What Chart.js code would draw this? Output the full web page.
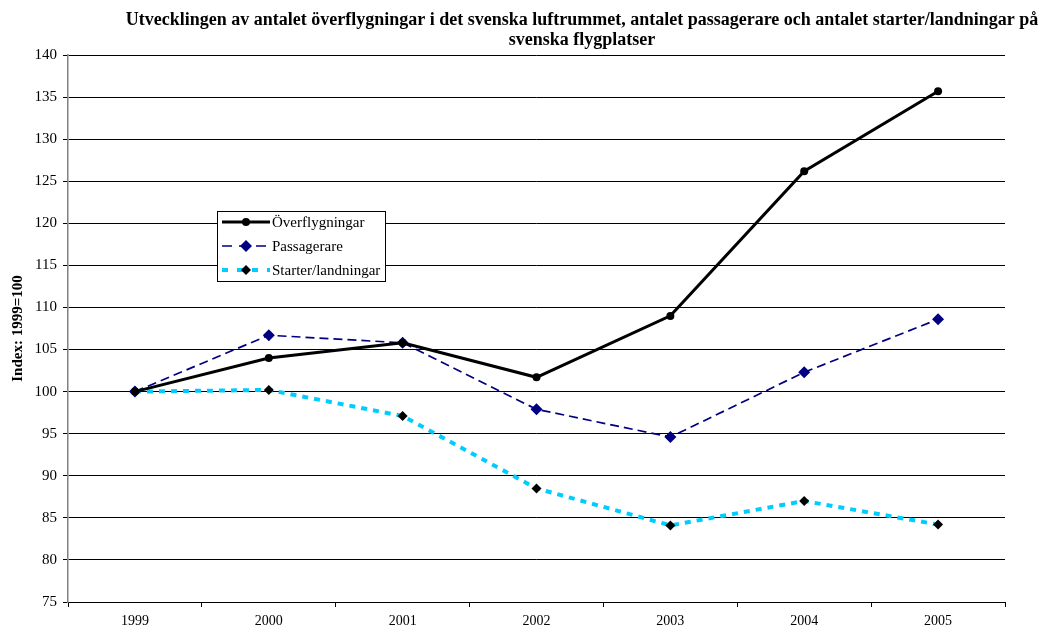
<!DOCTYPE html>
<html>
<head>
<meta charset="utf-8">
<script src="https://cdn.jsdelivr.net/npm/chart.js@4"></script>
<style>
  html, body { margin: 0; padding: 0; background: #fff; }
  #wrap { width: 1045px; height: 628px; position: relative; }
</style>
</head>
<body>
<div id="wrap"><canvas id="chart" width="1045" height="628"></canvas></div>
<script>
const years = ['1999', '2000', '2001', '2002', '2003', '2004', '2005'];
const overflygningar = [100, 104.0, 105.8, 101.7, 109.0, 126.2, 135.7];
const passagerare = [100, 106.7, 105.8, 97.9, 94.6, 102.3, 108.6];
const starter = [100, 100.2, 97.1, 88.5, 84.1, 87.0, 84.2];
const titleLines = [
  'Utvecklingen av antalet överflygningar i det svenska luftrummet, antalet passagerare och antalet starter/landningar på',
  'svenska flygplatser'
];
const yLabel = 'Index: 1999=100';

const serif = '"Liberation Serif", "Times New Roman", serif';

// title is centred a bit right of the canvas middle, so draw it by hand
const titlePlugin = {
  id: 'manualTitle',
  afterDraw(chart) {
    const c = chart.ctx;
    c.save();
    c.fillStyle = '#000';
    c.font = 'bold 18px ' + serif;
    c.textAlign = 'center';
    c.textBaseline = 'middle';
    c.fillText(titleLines[0], 582, 20);
    c.fillText(titleLines[1], 582, 40);
    c.restore();
  }
};

// boxed legend sitting inside the plot
const legendPlugin = {
  id: 'boxLegend',
  afterDraw(chart) {
    const c = chart.ctx;
    const x0 = 217, y0 = 211, w = 168, h = 70;
    c.save();
    c.fillStyle = '#fff';
    c.fillRect(x0, y0, w, h);
    c.strokeStyle = '#000';
    c.lineWidth = 1;
    c.strokeRect(x0 + 0.5, y0 + 0.5, w, h);
    chart.data.datasets.forEach((ds, i) => {
      const y = y0 + 11 + i * 24;
      c.beginPath();
      c.strokeStyle = ds.borderColor;
      c.lineWidth = ds.borderWidth;
      c.setLineDash(ds.legendDash || []);
      c.moveTo(x0 + 5, y);
      c.lineTo(x0 + 53, y);
      c.stroke();
      c.setLineDash([]);
      c.fillStyle = ds.pointBackgroundColor;
      const mx = x0 + 29;
      const r = ds.pointRadius;
      c.beginPath();
      if (ds.pointStyle === 'rectRot') {
        c.moveTo(mx, y - r); c.lineTo(mx + r, y); c.lineTo(mx, y + r); c.lineTo(mx - r, y);
        c.closePath();
      } else {
        c.arc(mx, y, r, 0, Math.PI * 2);
      }
      c.fill();
      c.fillStyle = '#000';
      c.font = '15px ' + serif;
      c.textAlign = 'left';
      c.textBaseline = 'middle';
      c.fillText(ds.label, x0 + 55, y + 1);
    });
    c.restore();
  }
};

new Chart(document.getElementById('chart').getContext('2d'), {
  type: 'line',
  data: {
    labels: years,
    datasets: [{
      label: 'Överflygningar',
      data: overflygningar,
      borderColor: '#000',
      backgroundColor: '#000',
      pointBackgroundColor: '#000',
      pointBorderWidth: 0,
      pointStyle: 'circle',
      pointRadius: 4,
      borderWidth: 3,
      tension: 0,
    }, {
      label: 'Passagerare',
      data: passagerare,
      borderColor: '#000080',
      backgroundColor: '#000080',
      pointBackgroundColor: '#000080',
      pointBorderWidth: 0,
      pointStyle: 'rectRot',
      pointRadius: 6,
      borderWidth: 1.7,
      borderDash: [9, 5],
      legendDash: [10, 7],
      tension: 0,
    }, {
      label: 'Starter/landningar',
      data: starter,
      borderColor: '#00CCFF',
      backgroundColor: '#000',
      pointBackgroundColor: '#000',
      pointBorderWidth: 0,
      pointStyle: 'rectRot',
      pointRadius: 5,
      borderWidth: 4,
      borderDash: [6, 6],
      legendDash: [6, 9],
      tension: 0,
    }],
  },
  options: {
    responsive: false,
    animation: false,
    devicePixelRatio: 1,
    layout: { padding: { top: 55, right: 40, bottom: 0, left: 0 } },
    scales: {
      x: {
        offset: true,
        afterFit: (s) => { s.height = 26; },
        grid: { drawOnChartArea: false, drawTicks: true, tickLength: 5, color: '#000', offset: true },
        border: { color: '#000', width: 1 },
        ticks: { color: '#000', font: { family: serif, size: 14 }, padding: 6, maxRotation: 0 },
      },
      y: {
        min: 75,
        max: 140,
        afterFit: (s) => { s.width = 68; },
        ticks: { stepSize: 5, color: '#000', font: { family: serif, size: 15 }, padding: 6 },
        grid: { color: '#000', lineWidth: 1, tickLength: 5 },
        border: { color: '#808080', width: 1.5 },
        title: { display: true, text: yLabel, color: '#000', font: { family: serif, size: 15, weight: 'bold' }, padding: { top: 9, bottom: 0 } },
      },
    },
    plugins: {
      legend: { display: false },
      title: { display: false },
      tooltip: { enabled: false },
    },
  },
  plugins: [titlePlugin, legendPlugin],
});
</script>
</body>
</html>
